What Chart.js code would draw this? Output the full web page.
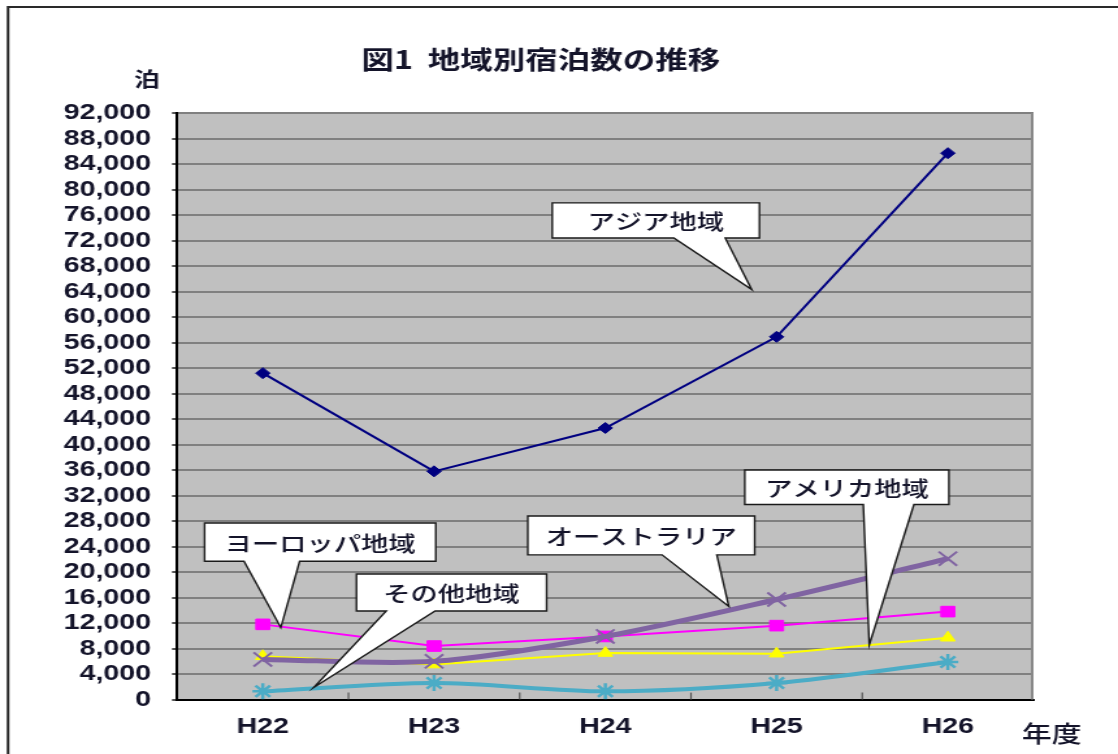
<!DOCTYPE html>
<html>
<head>
<meta charset="utf-8">
<script src="https://cdn.jsdelivr.net/npm/chart.js@4/dist/chart.umd.min.js"></script>
<style>
  html, body { margin: 0; padding: 0; background: #fff; overflow: hidden; }
  #c { display: block; width: 1118px; height: 754px; }
</style>
</head>
<body>
<canvas id="c" width="860" height="754" style="width:1118px;height:754px"></canvas>
<script>
// 年度ラベル
const years = ['H22', 'H23', 'H24', 'H25', 'H26'];

// 地域別宿泊数（泊）
const asia      = [51200, 35800, 42600, 56900, 85700];
const europe    = [11800,  8400,  9900, 11600, 13800];
const australia = [ 6300,  6000,  9900, 15700, 22100];
const america   = [ 6800,  5500,  7300,  7200,  9700];
const other     = [ 1300,  2600,  1300,  2600,  5900];

// 縦軸の範囲と目盛間隔
const yMin = 0;
const yMax = 92000;
const yStep = 4000;

// 吹き出しの文言
const calloutLabels = ['アジア地域', 'ヨーロッパ地域', 'その他地域', 'オーストラリア', 'アメリカ地域'];

const JP = '"Noto Sans CJK JP", "Noto Sans CJK SC", sans-serif';
const LAT = '"Liberation Sans", Arial, sans-serif';
const TEXT = '#14142a';

// 吹き出しの位置（x: 年度の位置, y: 泊数）
const calloutGeom = [
  { box: [1.69, 2.90, 77900, 72400], base: [2.40, 2.70], tip: [2.855, 64300] },
  { box: [-0.34, 1.01, 27700, 21700], base: [-0.11, 0.215], tip: [0.105, 11300] },
  { box: [0.547, 1.657, 19700, 13900], base: [0.721, 1.006], tip: [0.297, 1900] },
  { box: [1.547, 2.872, 28800, 22700], base: [2.331, 2.651], tip: [2.721, 14600] },
  { box: [2.814, 4.006, 36000, 30600], base: [3.506, 3.802], tip: [3.541, 8600] }
];

const framePlugin = {
  id: 'frame',
  beforeDraw(chart) {
    const { ctx, chartArea: a, width, height } = chart;
    ctx.save();
    ctx.fillStyle = '#fff';
    ctx.fillRect(0, 0, width, height);
    // 外枠
    ctx.strokeStyle = '#2a2a2a';
    ctx.lineWidth = 2;
    ctx.beginPath();
    ctx.moveTo(6.2, height + 2);
    ctx.lineTo(6.2, 7);
    ctx.lineTo(width + 2, 7);
    ctx.stroke();
    // プロットエリア
    ctx.fillStyle = '#c0c0c0';
    ctx.fillRect(a.left, a.top, a.right - a.left, a.bottom - a.top);
    ctx.restore();
  },
  beforeDatasetsDraw(chart) {
    const { ctx, chartArea: a, scales } = chart;
    ctx.save();
    // 右側の枠線
    ctx.strokeStyle = '#888';
    ctx.lineWidth = 2;
    ctx.beginPath();
    ctx.moveTo(a.right - 1, a.top);
    ctx.lineTo(a.right - 1, a.bottom);
    ctx.stroke();
    // 横軸の内向き目盛
    ctx.strokeStyle = '#555';
    ctx.lineWidth = 1.2;
    for (let i = 0; i < years.length - 1; i++) {
      const x = (scales.x.getPixelForValue(i) + scales.x.getPixelForValue(i + 1)) / 2;
      ctx.beginPath();
      ctx.moveTo(x, a.bottom);
      ctx.lineTo(x, a.bottom - 7);
      ctx.stroke();
    }
    ctx.restore();
  },
  afterDatasetsDraw(chart) {
    const { ctx, scales } = chart;
    const X = v => scales.x.getPixelForValue(v);
    const Y = v => scales.y.getPixelForValue(v);
    ctx.save();
    calloutGeom.forEach((g, i) => {
      const L = X(g.box[0]), R = X(g.box[1]), T = Y(g.box[2]), B = Y(g.box[3]);
      const bL = X(g.base[0]), bR = X(g.base[1]);
      const tx = X(g.tip[0]), ty = Y(g.tip[1]);
      ctx.beginPath();
      ctx.moveTo(L, T);
      ctx.lineTo(R, T);
      ctx.lineTo(R, B);
      ctx.lineTo(bR, B);
      ctx.lineTo(tx, ty);
      ctx.lineTo(bL, B);
      ctx.lineTo(L, B);
      ctx.closePath();
      ctx.fillStyle = '#fff';
      ctx.fill();
      ctx.strokeStyle = '#1a1a1a';
      ctx.lineWidth = 1.4;
      ctx.lineJoin = 'miter';
      ctx.stroke();
      ctx.fillStyle = TEXT;
      ctx.font = '500 21px ' + JP;
      ctx.textAlign = 'center';
      ctx.textBaseline = 'middle';
      ctx.fillText(calloutLabels[i], (L + R) / 2, (T + B) / 2 + 1);
    });
    ctx.restore();
  },
  afterDraw(chart) {
    const { ctx } = chart;
    ctx.save();
    ctx.fillStyle = TEXT;
    ctx.textBaseline = 'middle';
    ctx.textAlign = 'center';
    ctx.font = 'bold 25px ' + JP;
    ctx.fillText('図1  地域別宿泊数の推移', 416, 59);
    ctx.font = 'bold 20px ' + JP;
    ctx.fillText('泊', 113, 79);
    ctx.font = '500 23px ' + JP;
    ctx.fillText('年度', 809, 733);
    ctx.restore();
  }
};

new Chart(document.getElementById('c'), {
  type: 'line',
  data: {
    labels: years,
    datasets: [
      { label: 'アジア地域', data: asia, borderColor: '#000080', backgroundColor: '#000080',
        borderWidth: 2, pointStyle: 'rectRot', pointRadius: 5.5, pointBorderWidth: 1, tension: 0 },
      { label: 'その他地域', data: other, borderColor: '#4BACC6', backgroundColor: '#4BACC6',
        borderWidth: 4, pointStyle: 'star', pointRadius: 8, pointBorderWidth: 2.5, tension: 0.3 },
      { label: 'オーストラリア', data: australia, borderColor: '#8064A2', backgroundColor: '#8064A2',
        borderWidth: 5, pointStyle: 'crossRot', pointRadius: 10, pointBorderWidth: 2, tension: 0.3 },
      { label: 'ヨーロッパ地域', data: europe, borderColor: '#FF00FF', backgroundColor: '#FF00FF',
        borderWidth: 2, pointStyle: 'rect', pointRadius: 7.5, pointBorderWidth: 1, tension: 0 },
      { label: 'アメリカ地域', data: america, borderColor: '#FFFF00', backgroundColor: '#FFFF00',
        borderWidth: 2, pointStyle: 'triangle', pointRadius: 6.5, pointBorderWidth: 1, tension: 0 }
    ]
  },
  options: {
    responsive: false,
    animation: false,
    devicePixelRatio: 1,
    layout: { padding: { left: 33, right: 65, top: 113, bottom: 0 } },
    plugins: {
      legend: { display: false },
      tooltip: { enabled: false },
      title: { display: false }
    },
    scales: {
      x: {
        type: 'category',
        offset: true,
        grid: { display: true, drawOnChartArea: false, drawTicks: false, offset: true },
        border: { display: true, color: '#000', width: 2 },
        ticks: { font: { family: LAT, size: 22, weight: 'bold' }, color: TEXT, padding: 14 }
      },
      y: {
        min: yMin,
        max: yMax,
        ticks: { stepSize: yStep, autoSkip: false, font: { family: LAT, size: 22, weight: 'bold' }, color: TEXT, padding: 16 },
        grid: { color: '#808080', lineWidth: 2, tickLength: 4, tickColor: '#555' },
        border: { color: '#000', width: 2 }
      }
    }
  },
  plugins: [framePlugin]
});
</script>
</body>
</html>
